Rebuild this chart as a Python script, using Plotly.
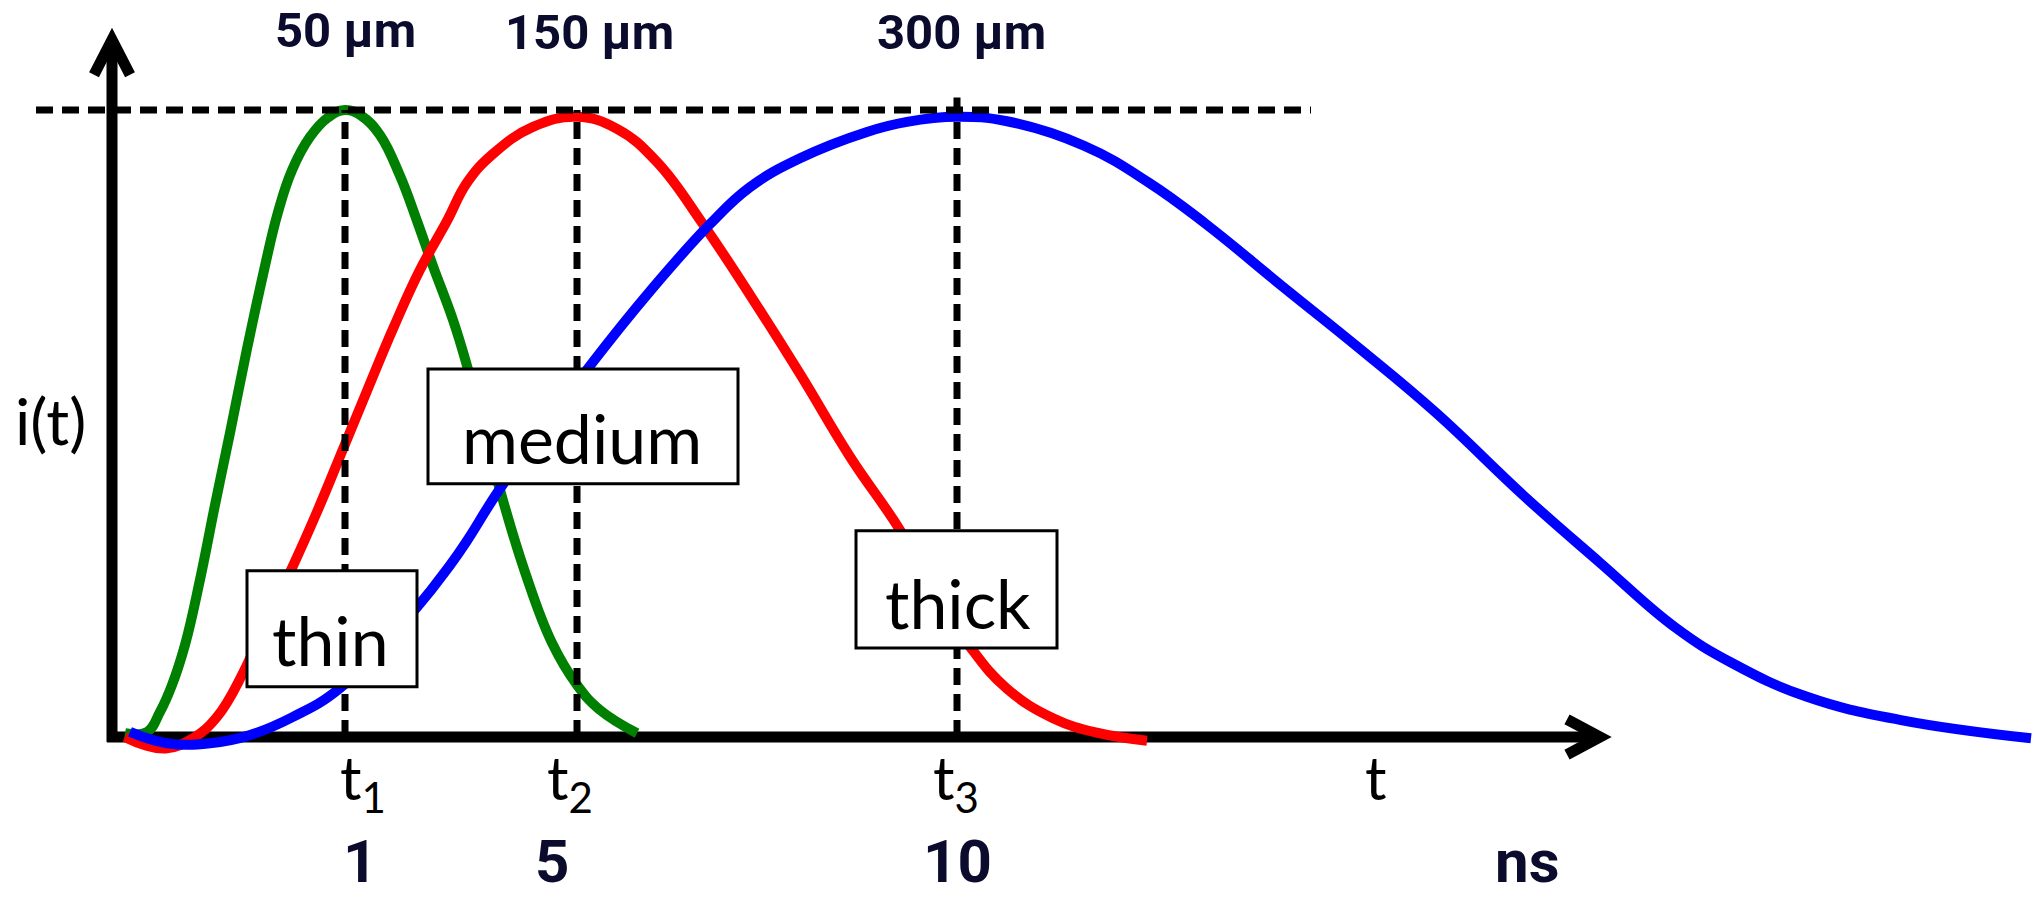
import numpy as np
import plotly.graph_objects as go

# ---------------- data (time in arbitrary units, current normalised to the common peak) ----------------
thin_t = [0.13, 0.35, 0.48, 0.60, 0.73, 0.88, 1.03, 1.18, 1.35, 1.51, 1.66, 1.80, 1.98, 2.16, 2.33,
          2.50, 2.68, 2.88, 3.05, 3.21, 3.41, 3.55, 3.88, 4.13, 4.40, 4.65, 4.88, 5.25]
thin_i = [0.006, 0.008, 0.040, 0.083, 0.147, 0.251, 0.370, 0.485, 0.619, 0.737, 0.837, 0.904, 0.957,
          0.988, 1.000, 0.990, 0.960, 0.895, 0.823, 0.751, 0.665, 0.592, 0.394, 0.263, 0.150, 0.083,
          0.043, 0.006]

medium_t = [0.13, 0.33, 0.55, 0.81, 1.05, 1.31, 1.55, 1.81, 2.05, 2.31, 2.55, 2.81, 3.08, 3.35, 3.55,
            3.81, 4.21, 4.65, 5.05, 5.45, 5.91, 6.38, 6.88, 7.38, 7.88, 8.23, 8.58, 8.95, 9.41, 9.87, 10.35]
medium_i = [0.000, -0.013, -0.018, -0.002, 0.032, 0.102, 0.187, 0.273, 0.359, 0.459, 0.552, 0.651, 0.745,
            0.823, 0.884, 0.930, 0.973, 0.989, 0.970, 0.917, 0.818, 0.705, 0.579, 0.447, 0.330, 0.231,
            0.144, 0.077, 0.030, 0.006, -0.006]

thick_t = [0.18, 0.55, 0.98, 1.38, 1.81, 2.28, 3.05, 3.38, 3.55, 3.88, 4.78, 5.38, 5.98, 6.38, 6.88,
           7.55, 7.95, 8.45, 8.95, 9.72, 10.37, 10.94, 11.71, 12.48, 13.24, 14.13, 14.88, 15.63,
           16.20, 16.95, 17.89, 19.19]
thick_i = [0.008, -0.010, -0.010, 0.003, 0.032, 0.078, 0.207, 0.274, 0.313, 0.396, 0.592, 0.711, 0.818,
           0.877, 0.923, 0.965, 0.981, 0.989, 0.982, 0.943, 0.884, 0.818, 0.718, 0.619, 0.517, 0.383,
           0.278, 0.175, 0.118, 0.064, 0.027, -0.002]

thickness_labels = ["50 µm", "150 µm", "300 µm"]
time_labels = ["1", "5", "10"]
unit_label = "ns"
peak_tick_labels = ["t<sub>1</sub>", "t<sub>2</sub>", "t<sub>3</sub>"]
axis_tick_label = "t"
axis_title = "i(t)"
box_labels = ["thin", "medium", "thick"]

# ---------------- layout / positions ----------------
X_RANGE = [-1.12, 19.27]
Y_RANGE = [-0.2584, 1.1754]
X_AXIS_END = 14.88
Y_AXIS_END = 1.112
PEAK_LINE_LEVEL = 1.0

series = [
    (thin_t, thin_i, "#008000"),
    (medium_t, medium_i, "#ff0000"),
    (thick_t, thick_i, "#0000ff"),
]
dash_tops = [1.0, 1.0, 1.02]

top_label_pos = [(2.33, 1.126), (4.77, 1.124), (8.49, 1.124)]
time_label_x = [2.48, 4.40, 8.45]
unit_label_x = 14.15
bottom_label_y = -0.198
peak_tick_x = [2.51, 4.58, 8.44]
axis_tick_x = 12.64
tick_label_y = -0.004
axis_title_pos = (-0.62, 0.505)
box_rects = [(1.35, 3.05, 0.080, 0.265), (3.16, 6.26, 0.404, 0.587), (7.44, 9.45, 0.142, 0.329)]
box_text_pos = [(2.18, 0.155), (4.70, 0.478), (8.46, 0.214)]

fig = go.Figure()

for t, i, color in series:
    fig.add_trace(go.Scatter(x=t, y=i, mode="lines",
                             line=dict(color=color, width=10, shape="spline", smoothing=1.2),
                             hoverinfo="skip", showlegend=False))

shapes = []
AX = dict(color="black", width=11)
# axes (below the curves)
shapes.append(dict(type="line", xref="x", yref="y", x0=-0.05, y0=0, x1=X_AXIS_END, y1=0,
                   line=AX, layer="below"))
shapes.append(dict(type="line", xref="x", yref="y", x0=0, y0=-0.008, x1=0, y1=Y_AXIS_END,
                   line=AX, layer="below"))
shapes.append(dict(type="path", xref="x", yref="y",
                   path=f"M {X_AXIS_END-0.33},0.028 L {X_AXIS_END},0 L {X_AXIS_END-0.33},-0.028",
                   line=AX, layer="below"))
shapes.append(dict(type="path", xref="x", yref="y",
                   path=f"M -0.18,{Y_AXIS_END-0.056} L 0,{Y_AXIS_END} L 0.18,{Y_AXIS_END-0.056}",
                   line=AX, layer="below"))

DASH = dict(color="black", width=7, dash="17px,9px")
shapes.append(dict(type="line", xref="x", yref="y", x0=-0.76, y0=PEAK_LINE_LEVEL, x1=11.99,
                   y1=PEAK_LINE_LEVEL, line=DASH, layer="above"))
for (t, i, _), top in zip(series, dash_tops):
    tp = t[int(np.argmax(i))]
    shapes.append(dict(type="line", xref="x", yref="y", x0=tp, y0=0, x1=tp, y1=top,
                       line=DASH, layer="above"))

for (x0, x1, y0, y1) in box_rects:
    shapes.append(dict(type="rect", xref="x", yref="y", x0=x0, x1=x1, y0=y0, y1=y1,
                       fillcolor="white", line=dict(color="black", width=3), layer="above"))

annotations = []
BOLD = dict(family="Roboto, Arial, sans-serif", size=49, color="#0b0b2e", weight="bold")
BOLD_BIG = dict(family="Roboto, Arial, sans-serif", size=60, color="#0b0b2e", weight="bold")
THIN = dict(family="Lato, 'Open Sans', sans-serif", size=68, color="black")

for txt, (x, y) in zip(thickness_labels, top_label_pos):
    annotations.append(dict(x=x, y=y, text=txt, font=BOLD))
for txt, x in zip(time_labels, time_label_x):
    annotations.append(dict(x=x, y=bottom_label_y, text=txt, font=BOLD_BIG))
annotations.append(dict(x=unit_label_x, y=bottom_label_y, text=unit_label, font=BOLD_BIG))
for txt, x in zip(peak_tick_labels, peak_tick_x):
    annotations.append(dict(x=x, y=tick_label_y, text=txt, font=dict(THIN, size=60), yanchor="top"))
annotations.append(dict(x=axis_tick_x, y=tick_label_y, text=axis_tick_label, font=dict(THIN, size=60),
                        yanchor="top"))
annotations.append(dict(x=axis_title_pos[0], y=axis_title_pos[1], text=axis_title, font=dict(THIN, size=64)))
for txt, (x, y) in zip(box_labels, box_text_pos):
    annotations.append(dict(x=x, y=y, text=txt, font=THIN))

for a in annotations:
    a.setdefault("xref", "x")
    a.setdefault("yref", "y")
    a.setdefault("showarrow", False)
    a.setdefault("xanchor", "center")
    a.setdefault("yanchor", "middle")

fig.update_layout(
    width=2039, height=899, autosize=False,
    margin=dict(l=0, r=0, t=0, b=0, pad=0),
    paper_bgcolor="white", plot_bgcolor="white",
    xaxis=dict(range=X_RANGE, visible=False, fixedrange=True),
    yaxis=dict(range=Y_RANGE, visible=False, fixedrange=True),
    shapes=shapes, annotations=annotations, showlegend=False,
)

fig.write_html("out.html",
               config={"displayModeBar": False},
               post_script="document.body.style.margin='0';document.body.style.overflow='hidden';")
